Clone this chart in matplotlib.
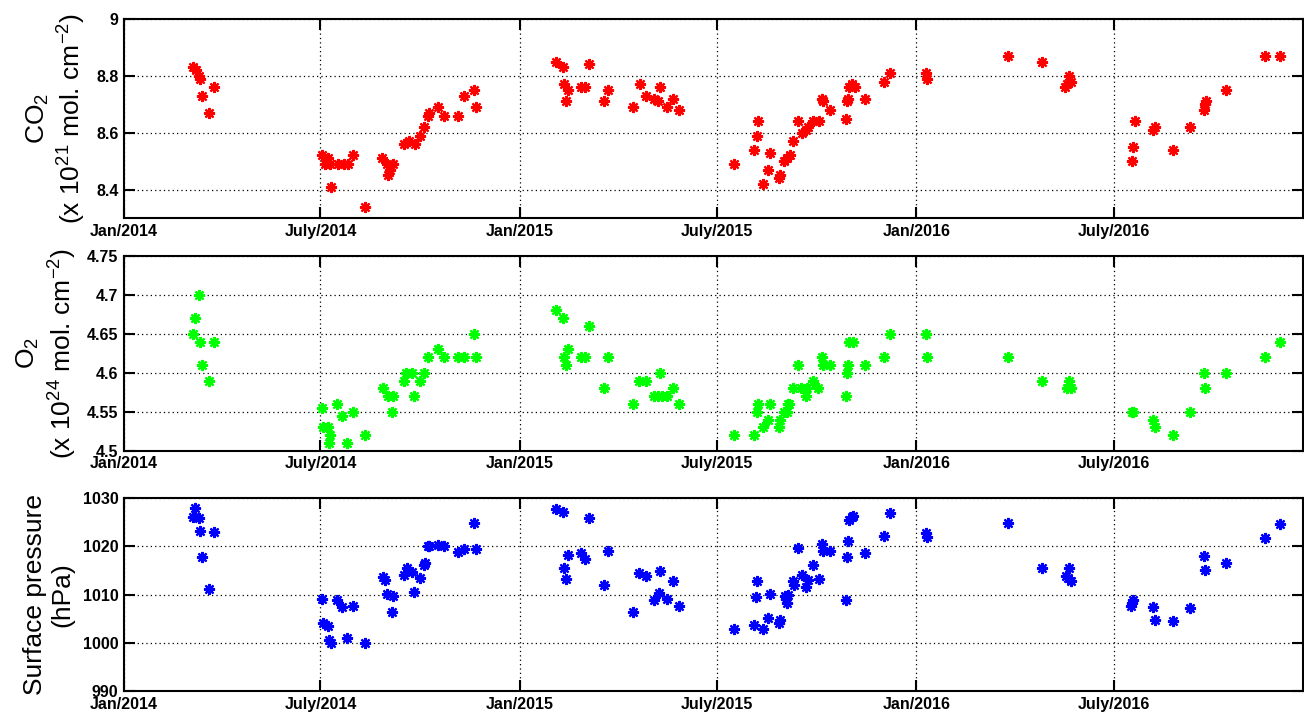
import pandas as pd
import matplotlib
matplotlib.use('Agg')
import matplotlib.pyplot as plt
import matplotlib.ticker as mticker

plt.rcParams['font.family'] = ['Liberation Sans', 'DejaVu Sans']
plt.rcParams['mathtext.default'] = 'regular'

# x axis
tick_dates = ['2014-01-01', '2014-07-01', '2015-01-01', '2015-07-01', '2016-01-01', '2016-07-01']
tick_labels = ['Jan/2014', 'July/2014', 'Jan/2015', 'July/2015', 'Jan/2016', 'July/2016']
x_start, x_end = '2014-01-01', '2016-12-22'

# CO2 column (x 10^21 mol cm^-2)
co2_dates = ['2014-03-06', '2014-03-08', '2014-03-11', '2014-03-12', '2014-03-14', '2014-03-20', '2014-03-25',
             '2014-07-02', '2014-07-05', '2014-07-08', '2014-07-10', '2014-07-11', '2014-07-17', '2014-07-23',
             '2014-07-26', '2014-07-31', '2014-08-11',
             '2014-08-27', '2014-08-31', '2014-09-01', '2014-09-03', '2014-09-06', '2014-09-16', '2014-09-21',
             '2014-09-26',
             '2014-10-01', '2014-10-04', '2014-10-08', '2014-10-09', '2014-10-17', '2014-10-23', '2014-11-05',
             '2014-11-10', '2014-11-19', '2014-11-21',
             '2015-02-03', '2015-02-09', '2015-02-10', '2015-02-12', '2015-02-14', '2015-02-26', '2015-03-02',
             '2015-03-05', '2015-03-19', '2015-03-23',
             '2015-04-15', '2015-04-21', '2015-04-27', '2015-05-04', '2015-05-08', '2015-05-10', '2015-05-16',
             '2015-05-22', '2015-05-27',
             '2015-07-17', '2015-08-04', '2015-08-07', '2015-08-08', '2015-08-13', '2015-08-17', '2015-08-19',
             '2015-08-27', '2015-08-28',
             '2015-09-01', '2015-09-04', '2015-09-07', '2015-09-09', '2015-09-14', '2015-09-18', '2015-09-21',
             '2015-09-23', '2015-09-28',
             '2015-10-03', '2015-10-06', '2015-10-07', '2015-10-13', '2015-10-28', '2015-10-29', '2015-10-30',
             '2015-10-31', '2015-11-03', '2015-11-05', '2015-11-15', '2015-12-02', '2015-12-08',
             '2016-01-10', '2016-01-11', '2016-03-25', '2016-04-26', '2016-05-17', '2016-05-19', '2016-05-21',
             '2016-05-22',
             '2016-07-18', '2016-07-19', '2016-07-20', '2016-08-06', '2016-08-08', '2016-08-24', '2016-09-09',
             '2016-09-22', '2016-09-23', '2016-09-24', '2016-10-12', '2016-11-17', '2016-12-01']
co2_vals = [8.83, 8.82, 8.80, 8.79, 8.73, 8.67, 8.76,
            8.52, 8.49, 8.51, 8.49, 8.41, 8.49, 8.49, 8.49, 8.52, 8.34,
            8.51, 8.49, 8.45, 8.47, 8.49, 8.56, 8.57, 8.56,
            8.59, 8.62, 8.66, 8.67, 8.69, 8.66, 8.66, 8.73, 8.75, 8.69,
            8.85, 8.83, 8.77, 8.71, 8.75, 8.76, 8.76, 8.84, 8.71, 8.75,
            8.69, 8.77, 8.73, 8.72, 8.71, 8.76, 8.69, 8.72, 8.68,
            8.49, 8.54, 8.59, 8.64, 8.42, 8.47, 8.53, 8.44, 8.45,
            8.50, 8.51, 8.52, 8.57, 8.64, 8.60, 8.61, 8.62, 8.64,
            8.64, 8.72, 8.71, 8.68, 8.65, 8.71, 8.72, 8.76, 8.77, 8.76, 8.72, 8.78, 8.81,
            8.81, 8.79, 8.87, 8.85, 8.76, 8.77, 8.80, 8.78,
            8.50, 8.55, 8.64, 8.61, 8.62, 8.54, 8.62, 8.68, 8.70, 8.71, 8.75, 8.87, 8.87]

# O2 column (x 10^24 mol cm^-2)
o2_dates = ['2014-03-06', '2014-03-07', '2014-03-11', '2014-03-12', '2014-03-14', '2014-03-20', '2014-03-25',
            '2014-07-02', '2014-07-03', '2014-07-08', '2014-07-09', '2014-07-10', '2014-07-16', '2014-07-21',
            '2014-07-25', '2014-07-31', '2014-08-11',
            '2014-08-28', '2014-09-01', '2014-09-05', '2014-09-06', '2014-09-16', '2014-09-18', '2014-09-23',
            '2014-09-25',
            '2014-10-01', '2014-10-04', '2014-10-08', '2014-10-17', '2014-10-23', '2014-11-05', '2014-11-10',
            '2014-11-19', '2014-11-21',
            '2015-02-03', '2015-02-09', '2015-02-10', '2015-02-12', '2015-02-14', '2015-02-26', '2015-03-02',
            '2015-03-05', '2015-03-19', '2015-03-23',
            '2015-04-15', '2015-04-20', '2015-04-27', '2015-05-04', '2015-05-08', '2015-05-10', '2015-05-12',
            '2015-05-16', '2015-05-22', '2015-05-27',
            '2015-07-17', '2015-08-04', '2015-08-07', '2015-08-08', '2015-08-13', '2015-08-17', '2015-08-19',
            '2015-08-27', '2015-08-28',
            '2015-09-01', '2015-09-04', '2015-09-05', '2015-09-06', '2015-09-09', '2015-09-14', '2015-09-17',
            '2015-09-21', '2015-09-22', '2015-09-28',
            '2015-10-02', '2015-10-06', '2015-10-07', '2015-10-13', '2015-10-28', '2015-10-29', '2015-10-30',
            '2015-10-31', '2015-11-04', '2015-11-15', '2015-12-02', '2015-12-08',
            '2016-01-10', '2016-01-11', '2016-03-25', '2016-04-26', '2016-05-19', '2016-05-21', '2016-05-22',
            '2016-07-18', '2016-07-19', '2016-08-06', '2016-08-08', '2016-08-24', '2016-09-09', '2016-09-22',
            '2016-09-23', '2016-10-12', '2016-11-17', '2016-12-01']
o2_vals = [4.65, 4.67, 4.70, 4.64, 4.61, 4.59, 4.64,
           4.555, 4.53, 4.53, 4.51, 4.52, 4.56, 4.545, 4.51, 4.55, 4.52,
           4.58, 4.57, 4.55, 4.57, 4.59, 4.60, 4.60, 4.57,
           4.59, 4.60, 4.62, 4.63, 4.62, 4.62, 4.62, 4.65, 4.62,
           4.68, 4.67, 4.62, 4.61, 4.63, 4.62, 4.62, 4.66, 4.58, 4.62,
           4.56, 4.59, 4.59, 4.57, 4.57, 4.60, 4.57, 4.57, 4.58, 4.56,
           4.52, 4.52, 4.55, 4.56, 4.53, 4.54, 4.56, 4.53, 4.54,
           4.55, 4.55, 4.56, 4.56, 4.58, 4.61, 4.58, 4.57, 4.58, 4.59,
           4.58, 4.62, 4.61, 4.61, 4.57, 4.60, 4.61, 4.64, 4.64, 4.61, 4.62, 4.65,
           4.65, 4.62, 4.62, 4.59, 4.58, 4.59, 4.58,
           4.55, 4.55, 4.54, 4.53, 4.52, 4.55, 4.60, 4.58, 4.60, 4.62, 4.64]

# surface pressure (hPa)
p_dates = ['2014-03-06', '2014-03-07', '2014-03-11', '2014-03-12', '2014-03-14', '2014-03-20', '2014-03-25',
           '2014-07-02', '2014-07-03', '2014-07-08', '2014-07-09', '2014-07-11', '2014-07-16', '2014-07-21',
           '2014-07-25', '2014-07-31', '2014-08-11',
           '2014-08-28', '2014-08-29', '2014-08-31', '2014-09-05', '2014-09-06', '2014-09-16', '2014-09-19',
           '2014-09-23', '2014-09-25',
           '2014-10-01', '2014-10-04', '2014-10-05', '2014-10-08', '2014-10-09', '2014-10-17', '2014-10-23',
           '2014-11-05', '2014-11-10', '2014-11-19', '2014-11-21',
           '2015-02-03', '2015-02-09', '2015-02-10', '2015-02-12', '2015-02-14', '2015-02-26', '2015-03-02',
           '2015-03-05', '2015-03-19', '2015-03-23',
           '2015-04-15', '2015-04-20', '2015-04-27', '2015-05-04', '2015-05-09', '2015-05-10', '2015-05-16',
           '2015-05-22', '2015-05-27',
           '2015-07-17', '2015-08-04', '2015-08-06', '2015-08-07', '2015-08-13', '2015-08-17', '2015-08-19',
           '2015-08-27', '2015-08-28',
           '2015-09-02', '2015-09-03', '2015-09-04', '2015-09-05', '2015-09-09', '2015-09-10', '2015-09-14',
           '2015-09-18', '2015-09-21', '2015-09-23', '2015-09-28',
           '2015-10-03', '2015-10-06', '2015-10-07', '2015-10-13', '2015-10-28', '2015-10-29', '2015-10-30',
           '2015-10-31', '2015-11-03', '2015-11-04', '2015-11-15', '2015-12-02', '2015-12-08',
           '2016-01-10', '2016-01-11', '2016-03-25', '2016-04-26', '2016-05-18', '2016-05-20', '2016-05-21',
           '2016-05-22',
           '2016-07-17', '2016-07-18', '2016-07-19', '2016-08-06', '2016-08-08', '2016-08-24', '2016-09-09',
           '2016-09-22', '2016-09-23', '2016-10-12', '2016-11-17', '2016-12-01']
p_vals = [1026.2, 1027.9, 1026.0, 1023.3, 1017.9, 1011.2, 1023.1,
          1009.1, 1004.2, 1003.4, 1000.6, 999.9, 1008.8, 1007.4, 1001.1, 1007.7, 1000.0,
          1013.6, 1013.0, 1010.1, 1006.3, 1009.8, 1014.1, 1015.5, 1014.8, 1010.6,
          1013.4, 1016.2, 1016.6, 1020.1, 1020.0, 1020.3, 1020.1, 1018.9, 1019.5, 1024.8, 1019.5,
          1027.7, 1027.2, 1015.5, 1013.2, 1018.2, 1018.7, 1017.5, 1026.0, 1012.1, 1019.1,
          1006.3, 1014.4, 1013.9, 1008.9, 1010.3, 1015.0, 1009.0, 1012.8, 1007.6,
          1002.8, 1003.8, 1009.6, 1012.8, 1002.8, 1005.2, 1010.2, 1004.1, 1004.8,
          1009.7, 1009.0, 1008.3, 1010.0, 1012.8, 1011.9, 1019.7, 1014.1, 1011.6, 1013.1, 1016.2,
          1013.2, 1020.6, 1019.0, 1019.0, 1008.8, 1017.9, 1021.2, 1025.4, 1026.1, 1026.3, 1018.6, 1022.2, 1027.0,
          1022.9, 1022.0, 1024.8, 1015.6, 1013.9, 1013.4, 1015.5, 1012.8,
          1007.6, 1008.2, 1008.9, 1007.4, 1004.7, 1004.6, 1007.2, 1018.1, 1015.1, 1016.6, 1021.7, 1024.6]

panels = [
    (co2_dates, co2_vals, 'red', 'CO$_2$\n(x 10$^{21}$ mol. cm$^{-2}$)', (8.3, 9.0), [8.4, 8.6, 8.8, 9.0]),
    (o2_dates, o2_vals, 'lime', 'O$_2$\n(x 10$^{24}$ mol. cm$^{-2}$)', (4.5, 4.75),
     [4.5, 4.55, 4.6, 4.65, 4.7, 4.75]),
    (p_dates, p_vals, 'blue', 'Surface pressure\n(hPa)', (990, 1030), [990, 1000, 1010, 1020, 1030]),
]

# axes boxes in figure fractions [left, bottom, width, height]
boxes = [[0.0951, 0.6942, 0.9040, 0.2792],
         [0.0951, 0.3679, 0.9040, 0.2731],
         [0.0951, 0.0309, 0.9040, 0.2702]]

fig = plt.figure(figsize=(13.04, 7.13), dpi=100)

for (dates, vals, color, label, ylim, yticks), box in zip(panels, boxes):
    ax = fig.add_axes(box)
    ax.plot(pd.to_datetime(dates), vals, linestyle='none', marker=(8, 2, 0),
            markersize=8, markeredgewidth=1.6, color=color, markeredgecolor=color)
    ax.set_xlim(pd.Timestamp(x_start), pd.Timestamp(x_end))
    ax.set_xticks(pd.to_datetime(tick_dates))
    ax.set_xticklabels(tick_labels)
    ax.set_ylim(*ylim)
    ax.set_yticks(yticks)
    ax.yaxis.set_major_formatter(mticker.FormatStrFormatter('%g'))
    ax.grid(True, color='black', linestyle=(0, (1, 2.5)), linewidth=0.9)
    ax.tick_params(direction='in', top=True, right=True, length=8, width=1.5,
                   labelsize=11.5, pad=4)
    for lab in ax.get_xticklabels() + ax.get_yticklabels():
        lab.set_fontweight('bold')
    for sp in ax.spines.values():
        sp.set_linewidth(1.5)
    ax.set_ylabel(label, fontsize=19, labelpad=6)

fig.savefig('out.png', dpi=100)
